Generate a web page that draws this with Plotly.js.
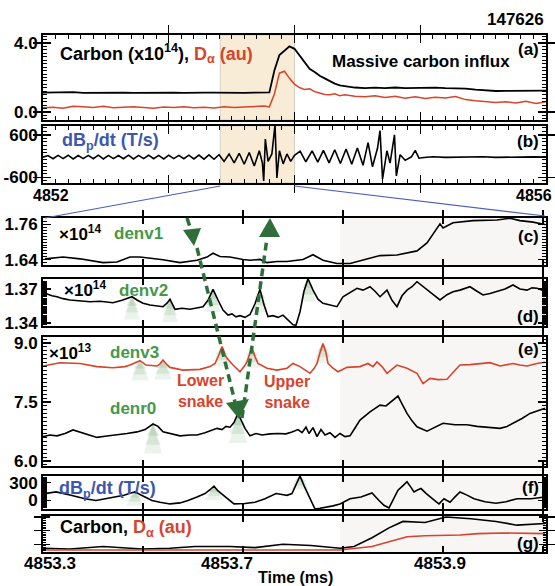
<!DOCTYPE html>
<html><head><meta charset="utf-8">
<script src="https://cdn.plot.ly/plotly-3.0.1.min.js"></script>
<style>html,body{margin:0;padding:0;background:#fff}#chart{width:555px;height:586px}</style>
</head><body><div id="chart"></div>
<script>
// ---------- DATA ----------
// Panel (a): time (ms), carbon (x1e14), D-alpha (au)
const timeA = [4852.00,4852.08,4852.16,4852.24,4852.32,4852.40,4852.48,4852.56,4852.64,4852.72,4852.80,4852.88,4852.96,4853.04,4853.12,4853.20,4853.28,4853.36,4853.44,4853.52,4853.60,4853.68,4853.76,
  4853.80,4853.84,4853.88,4853.92,4853.96,4854.00,4854.04,4854.08,4854.12,4854.16,4854.20,4854.24,4854.28,4854.32,4854.36,4854.40,
  4854.48,4854.56,4854.64,4854.72,4854.80,4854.88,4854.96,4855.04,4855.12,4855.20,4855.28,4855.36,4855.44,4855.52,4855.60,4855.68,4855.76,4855.84,4855.92,4856.00];
const carbonA = [1.12,1.14,1.13,1.15,1.11,1.12,1.10,1.12,1.13,1.11,1.12,1.10,1.11,1.12,1.11,1.10,1.12,1.13,1.11,1.12,1.11,1.12,1.12,
  1.14,2.40,3.30,3.55,3.80,3.66,3.25,2.85,2.50,2.32,2.10,1.95,1.80,1.65,1.55,1.50,
  1.42,1.38,1.41,1.39,1.42,1.38,1.40,1.39,1.41,1.38,1.39,1.36,1.30,1.24,1.22,1.23,1.24,1.22,1.23,1.24];
const dalphaA = [0.25,0.28,0.22,0.34,0.30,0.27,0.33,0.25,0.28,0.30,0.26,0.22,0.29,0.27,0.31,0.25,0.28,0.24,0.30,0.26,0.29,0.33,0.35,
  0.30,1.05,2.25,2.36,1.95,1.62,1.42,1.30,1.35,1.18,1.10,1.02,1.00,1.06,0.95,1.00,
  0.92,0.88,0.95,0.85,0.92,0.80,0.88,0.78,0.86,0.82,0.90,0.72,0.65,0.62,0.55,0.60,0.52,0.62,0.50,0.60];
// Panel (b): dBp/dt (T/s) vertices [time, value]
const dbdtB = [
 [4852.00,-30],[4852.04,15],[4852.08,-75],[4852.12,20],[4852.16,-70],[4852.20,25],[4852.24,-80],[4852.28,15],[4852.32,-70],[4852.36,20],
 [4852.40,-75],[4852.44,25],[4852.48,-80],[4852.52,20],[4852.56,-70],[4852.60,15],[4852.64,-75],[4852.68,25],[4852.72,-80],[4852.76,20],
 [4852.80,-70],[4852.84,25],[4852.88,-75],[4852.92,20],[4852.96,-80],[4853.00,25],[4853.04,-70],[4853.08,20],[4853.12,-75],[4853.16,25],
 [4853.20,-80],[4853.24,30],[4853.28,-85],[4853.32,35],[4853.36,-90],[4853.40,40],
 [4853.44,-150],[4853.48,60],[4853.52,-190],[4853.56,80],[4853.60,-230],[4853.64,100],[4853.68,-280],[4853.72,150],[4853.745,-200],
 [4853.755,-700],[4853.768,480],[4853.79,-150],[4853.82,60],[4853.845,880],[4853.86,-620],[4853.88,150],[4853.91,-220],[4853.94,60],
 [4853.97,-150],[4854.00,20],
 [4854.045,140],[4854.09,-160],[4854.14,150],[4854.185,-170],[4854.23,160],[4854.275,-190],[4854.32,180],[4854.365,-210],[4854.41,200],
 [4854.455,-230],[4854.50,230],[4854.545,-260],[4854.585,380],[4854.62,-300],[4854.66,220],[4854.68,720],[4854.70,-650],[4854.735,150],
 [4854.76,-200],[4854.795,600],[4854.81,-560],[4854.84,40],[4854.88,-120],[4854.93,-20],[4854.96,160],[4854.99,-60],[4855.03,-40],
 [4855.10,-20],[4855.20,-35],[4855.30,-25],[4855.40,-30],[4855.50,-20],[4855.60,-35],[4855.70,-25],[4855.80,-30],[4855.90,-22],[4856.00,-30]];
// Panel (c): denv1 (x1e14)
const denv1 = [
 [4853.302,1.643],[4853.320,1.649],[4853.337,1.643],[4853.360,1.630],[4853.374,1.632],[4853.387,1.649],[4853.397,1.649],[4853.420,1.640],
 [4853.437,1.630],[4853.454,1.638],[4853.464,1.649],[4853.470,1.662],[4853.477,1.651],[4853.487,1.649],[4853.500,1.641],[4853.507,1.638],
 [4853.517,1.641],[4853.524,1.630],[4853.534,1.634],[4853.544,1.634],[4853.560,1.641],[4853.570,1.657],[4853.580,1.638],[4853.594,1.627],
 [4853.607,1.627],[4853.624,1.643],[4853.637,1.654],[4853.654,1.656],[4853.674,1.670],[4853.684,1.697],[4853.694,1.746],[4853.697,1.762],
 [4853.700,1.748],[4853.710,1.766],[4853.730,1.773],[4853.754,1.775],[4853.767,1.781],[4853.777,1.773],[4853.790,1.768],[4853.802,1.760]];
// Panel (d): denv2 (x1e14)
const denv2 = [
 [4853.302,1.3662],[4853.309,1.3640],[4853.314,1.3632],[4853.320,1.3615],[4853.327,1.3603],[4853.337,1.3595],[4853.347,1.3588],[4853.357,1.3592],
 [4853.370,1.3579],[4853.379,1.3600],[4853.384,1.3618],[4853.389,1.3632],[4853.394,1.3603],[4853.400,1.3575],[4853.407,1.3559],[4853.414,1.3550],
 [4853.420,1.3544],[4853.424,1.3575],[4853.427,1.3609],[4853.432,1.3521],[4853.439,1.3530],[4853.447,1.3521],[4853.454,1.3530],[4853.460,1.3544],
 [4853.465,1.3600],[4853.470,1.3697],[4853.475,1.3603],[4853.480,1.3515],[4853.485,1.3470],[4853.489,1.3480],[4853.493,1.3455],[4853.497,1.3465],
 [4853.502,1.3450],[4853.507,1.3475],[4853.512,1.3570],[4853.517,1.3697],[4853.521,1.3560],[4853.525,1.3457],[4853.530,1.3465],[4853.535,1.3450],
 [4853.540,1.3470],[4853.545,1.3430],[4853.550,1.3385],[4853.553,1.3380],[4853.557,1.3500],[4853.561,1.3680],[4853.565,1.3790],[4853.570,1.3690],
 [4853.575,1.3610],[4853.580,1.3574],[4853.587,1.3560],[4853.594,1.3544],[4853.600,1.3632],[4853.607,1.3670],[4853.614,1.3706],[4853.620,1.3690],
 [4853.627,1.3720],[4853.632,1.3680],[4853.637,1.3632],[4853.644,1.3690],[4853.649,1.3600],[4853.654,1.3544],[4853.659,1.3640],[4853.664,1.3690],
 [4853.669,1.3720],[4853.674,1.3764],[4853.680,1.3720],[4853.687,1.3676],[4853.692,1.3640],[4853.697,1.3603],[4853.704,1.3650],[4853.710,1.3676],
 [4853.717,1.3690],[4853.727,1.3720],[4853.734,1.3680],[4853.740,1.3647],[4853.747,1.3660],[4853.754,1.3676],[4853.762,1.3700],[4853.770,1.3735],
 [4853.777,1.3700],[4853.784,1.3690],[4853.789,1.3710],[4853.794,1.3706],[4853.802,1.3680]];
// Panel (e): denv3 and denr0 (x1e13)
const denv3 = [
 [4853.300,8.415],[4853.317,8.50],[4853.337,8.48],[4853.354,8.40],[4853.370,8.37],[4853.382,8.40],[4853.387,8.44],[4853.393,8.50],[4853.397,8.55],
 [4853.403,8.44],[4853.408,8.42],[4853.414,8.415],[4853.417,8.47],[4853.420,8.57],[4853.424,8.45],[4853.427,8.38],[4853.440,8.31],[4853.449,8.33],
 [4853.457,8.33],[4853.467,8.40],[4853.472,8.48],[4853.476,8.70],[4853.479,8.91],[4853.482,8.70],[4853.484,8.61],[4853.490,8.44],[4853.494,8.35],
 [4853.497,8.27],[4853.501,8.40],[4853.504,8.52],[4853.507,8.75],[4853.509,8.87],[4853.512,8.65],[4853.515,8.48],[4853.524,8.36],[4853.534,8.31],
 [4853.544,8.36],[4853.550,8.48],[4853.557,8.40],[4853.567,8.23],[4853.571,8.35],[4853.574,8.48],[4853.577,8.75],[4853.580,8.99],[4853.583,8.75],
 [4853.585,8.48],[4853.590,8.36],[4853.595,8.27],[4853.604,8.38],[4853.617,8.40],[4853.625,8.48],[4853.630,8.40],[4853.634,8.52],[4853.639,8.40],
 [4853.644,8.23],[4853.654,8.44],[4853.664,8.36],[4853.674,8.23],[4853.680,7.97],[4853.687,8.10],[4853.695,8.07],[4853.704,8.08],[4853.710,8.25],
 [4853.717,8.44],[4853.727,8.45],[4853.737,8.47],[4853.747,8.50],[4853.757,8.415],[4853.764,8.46],[4853.770,8.48],[4853.777,8.44],[4853.784,8.415],
 [4853.794,8.48],[4853.802,8.51]];
const denr0 = [
 [4853.300,6.62],[4853.307,6.66],[4853.314,6.64],[4853.322,6.70],[4853.330,6.79],[4853.337,6.74],[4853.347,6.66],[4853.354,6.60],[4853.362,6.63],
 [4853.374,6.66],[4853.384,6.70],[4853.394,6.74],[4853.402,6.80],[4853.410,6.94],[4853.415,6.88],[4853.420,6.74],[4853.429,6.68],[4853.437,6.64],
 [4853.447,6.66],[4853.454,6.66],[4853.462,6.72],[4853.469,6.78],[4853.474,6.83],[4853.479,6.80],[4853.483,6.88],[4853.487,6.86],[4853.491,6.98],
 [4853.495,7.21],[4853.499,7.00],[4853.502,6.83],[4853.507,6.64],[4853.513,6.70],[4853.519,6.66],[4853.527,6.69],[4853.535,6.70],[4853.543,6.69],
 [4853.549,6.74],[4853.555,6.80],[4853.559,6.72],[4853.563,6.86],[4853.566,6.70],[4853.570,6.85],[4853.574,6.62],[4853.578,6.80],[4853.582,6.66],
 [4853.587,6.72],[4853.592,6.60],[4853.597,6.70],[4853.602,6.62],[4853.607,6.64],[4853.612,6.84],[4853.617,7.04],[4853.627,7.25],[4853.637,7.42],
 [4853.643,7.40],[4853.649,7.52],[4853.655,7.65],[4853.659,7.45],[4853.664,7.21],[4853.669,7.02],[4853.674,6.87],[4853.684,6.76],[4853.692,6.85],
 [4853.700,6.96],[4853.712,6.92],[4853.724,6.92],[4853.734,6.88],[4853.744,6.85],[4853.757,6.83],[4853.764,6.88],[4853.770,6.96],[4853.779,7.08],
 [4853.787,7.21],[4853.795,7.28],[4853.802,7.34]];
// Panel (f): dBp/dt (T/s)
const dbdtF = [
 [4853.300,110],[4853.303,117],[4853.313,144],[4853.328,87],[4853.342,30],[4853.353,0],[4853.363,33],[4853.381,87],[4853.387,120],[4853.392,144],
 [4853.397,100],[4853.402,58],[4853.409,0],[4853.417,-30],[4853.427,-57],[4853.437,-40],[4853.445,0],[4853.454,60],[4853.462,117],[4853.467,180],
 [4853.471,240],[4853.475,160],[4853.480,87],[4853.485,20],[4853.491,-57],[4853.502,-50],[4853.512,-28],[4853.522,30],[4853.533,117],[4853.539,100],
 [4853.544,87],[4853.549,117],[4853.553,250],[4853.557,410],[4853.561,250],[4853.565,117],[4853.568,0],[4853.572,-142],[4853.577,-130],[4853.583,-113],
 [4853.590,-90],[4853.597,-57],[4853.607,30],[4853.618,58],[4853.623,90],[4853.629,127],[4853.636,0],[4853.641,-80],[4853.646,-125],[4853.651,40],
 [4853.655,172],[4853.660,250],[4853.664,314],[4853.668,220],[4853.671,144],[4853.675,180],[4853.678,200],[4853.683,120],[4853.689,30],[4853.693,-20],
 [4853.696,-57],[4853.701,30],[4853.704,0],[4853.707,-28],[4853.712,60],[4853.717,144],[4853.724,90],[4853.731,30],[4853.742,-20],[4853.753,-45],
 [4853.763,-20],[4853.774,30],[4853.788,30],[4853.794,45],[4853.802,58]];
// Panel (g): carbon and D-alpha (au)
const carbonG = [
 [4853.300,0.08],[4853.327,0.06],[4853.360,0.13],[4853.399,0.06],[4853.427,0.08],[4853.452,0.13],[4853.487,0.13],[4853.512,0.10],[4853.540,0.20],
 [4853.568,0.16],[4853.597,0.08],[4853.611,0.13],[4853.629,0.39],[4853.646,0.68],[4853.660,0.87],[4853.682,0.84],[4853.703,1.00],[4853.728,0.95],
 [4853.753,0.87],[4853.774,0.76],[4853.802,0.81]];
const dalphaG = [
 [4853.300,0.03],[4853.399,0.03],[4853.505,0.03],[4853.597,0.03],[4853.629,0.13],[4853.647,0.28],[4853.664,0.42],[4853.682,0.45],[4853.717,0.47],
 [4853.735,0.51],[4853.760,0.53],[4853.802,0.51]];
// highlighted (green-shaded) peaks
const peaksD = [4853.389,4853.427,4853.470,4853.517,4853.565];
const peaksE3 = [4853.397,4853.420,4853.479,4853.509,4853.580];
const peaksE0 = [4853.410,4853.495];
const peaksF = [4853.392,4853.471,4853.557];
// zoomed window and tick labels
const zoomWindow = [4853.41, 4854.00];
const bottomTickVals = [4853.307, 4853.484, 4853.697];
const bottomTickText = ['4853.3','4853.7','4853.9'];

// ---------- LAYOUT HELPERS ----------
const W=555,H=586,ML=43,MR=9,MT=35,MB=34;
const PW=W-ML-MR, PH=H-MT-MB;
const px=x=>(x-ML)/PW, py=y=>(H-MB-y)/PH;
const FONT='Liberation Sans, Arial, Helvetica, sans-serif';
const RED='#d8432b', BLUE='#3d56b0', GREEN='#45984a', DKG='#2f6e38';
const xs=p=>p.map(d=>d[0]), ys=p=>p.map(d=>d[1]);

function line(x,y,xa,ya,color,w){return {type:'scatter',mode:'lines',x:x,y:y,xaxis:xa,yaxis:ya,line:{color:color,width:w||1.6},hoverinfo:'skip',showlegend:false};}

const traces=[
 line(timeA,carbonA,'x','y','#000',1.8),
 line(timeA,dalphaA,'x','y',RED,1.5),
 line(xs(dbdtB),ys(dbdtB),'x2','y2','#000',1.6),
 line(xs(denv1),ys(denv1),'x3','y3','#000',1.6),
 line(xs(denv2),ys(denv2),'x4','y4','#000',1.6),
 line(xs(denv3),ys(denv3),'x5','y5',RED,1.6),
 line(xs(denr0),ys(denr0),'x5','y5','#000',1.6),
 line(xs(dbdtF),ys(dbdtF),'x6','y6','#000',1.6),
 line(xs(carbonG),ys(carbonG),'x7','y7','#000',1.6),
 line(xs(dalphaG),ys(dalphaG),'x7','y7',RED,1.6)
];

const TF={family:FONT,size:17,color:'#000',weight:'bold'};
const base={showgrid:false,zeroline:false,showline:true,linecolor:'#000',linewidth:2,mirror:'allticks',ticks:'inside',tickcolor:'#000',tickwidth:1.3,fixedrange:true,tickfont:TF};
const dom=(top,bot)=>[py(bot),py(top)];

const topX={...base,range:[4852,4856],tickmode:'array',tickvals:[4852,4853,4854,4855,4856],ticklen:8,showticklabels:false};
const lowR=[4853.3,4853.803];
const lowTicks=[4853.3,4853.4,4853.5,4853.6,4853.7,4853.8];
const lowX={...base,range:lowR,tickmode:'array',tickvals:lowTicks,ticklen:6,showticklabels:false};

const layout={
 width:W,height:H,margin:{l:ML,r:MR,t:MT,b:MB},paper_bgcolor:'#fff',plot_bgcolor:'#fff',showlegend:false,
 font:{family:FONT},
 xaxis:{...topX,anchor:'y'},
 yaxis:{...base,domain:dom(35,120),anchor:'x',range:[-0.46,4.46],tickmode:'array',tickvals:[0,4],ticktext:['0.0','4.0'],ticklen:8},
 xaxis2:{...topX,anchor:'y2'},
 yaxis2:{...base,domain:dom(126,183),anchor:'x2',range:[-760,850],tickmode:'array',tickvals:[-600,600],ticktext:['-600','600'],ticklen:8},
 xaxis3:{...lowX,anchor:'y3'},
 yaxis3:{...base,domain:dom(218,265),anchor:'x3',range:[1.622,1.782],tickmode:'array',tickvals:[1.64,1.76],ticktext:['1.64','1.76'],ticklen:8},
 xaxis4:{...lowX,anchor:'y4'},
 yaxis4:{...base,domain:dom(279,326),anchor:'x4',range:[1.3374,1.3788],tickmode:'array',tickvals:[1.34,1.37],ticktext:['1.34','1.37'],ticklen:8},
 xaxis5:{...lowX,anchor:'y5'},
 yaxis5:{...base,domain:dom(337,466),anchor:'x5',range:[5.873,9.153],tickmode:'array',tickvals:[6,7.5,9],ticktext:['6.0','7.5','9.0'],ticklen:8},
 xaxis6:{...lowX,anchor:'y6'},
 yaxis6:{...base,domain:dom(476,509),anchor:'x6',range:[-142,410],tickmode:'array',tickvals:[0,300],ticktext:['0','300'],ticklen:8},
 xaxis7:{...lowX,anchor:'y7',tickvals:bottomTickVals,ticktext:bottomTickText,ticklen:0,showticklabels:true,ticklabelstandoff:-5},
 yaxis7:{...base,domain:dom(516,552),anchor:'x7',range:[-0.03,1.03],tickmode:'array',tickvals:[0.2,0.6,1.0],showticklabels:false,ticklen:7}
};

// overlay axes carrying the dense minor ticks (drawn on both sides)
const minorBase={showgrid:false,zeroline:false,showline:false,ticks:'inside',tickcolor:'#000',tickwidth:1,showticklabels:false,mirror:'ticks',fixedrange:true,tickmode:'linear'};
const minorY=[[1,[-0.46,4.46],0,0.2,4],[2,[-760,850],0,100,4],[3,[1.622,1.782],1.62,0.01,4],[4,[1.3374,1.3788],1.34,0.001,4],
              [5,[5.873,9.153],6,0.1,4],[6,[-142,410],0,10,4],[7,[-0.03,1.03],0,0.05,3]];
minorY.forEach(([n,r,t0,dt,len])=>{
 const id=10+n, xid=n===1?'x':'x'+n, yid=n===1?'y':'y'+n;
 layout['yaxis'+id]={...minorBase,overlaying:yid,anchor:xid,side:'left',range:r,tick0:t0,dtick:dt,ticklen:len};
 traces.push({type:'scatter',mode:'lines',x:[null],y:[null],xaxis:xid,yaxis:'y'+id,hoverinfo:'skip',showlegend:false});
});
const minorX=[[1,[4852,4856],4852,0.1,4],[2,[4852,4856],4852,0.1,4],[7,lowR,4853.3,0.1,6]];
minorX.forEach(([n,r,t0,dt,len])=>{
 const id=20+n, xid=n===1?'x':'x'+n, yid=n===1?'y':'y'+n;
 layout['xaxis'+id]={...minorBase,overlaying:xid,anchor:yid,side:'bottom',range:r,tick0:t0,dtick:dt,ticklen:len,tickwidth:n===7?1.3:1};
 traces.push({type:'scatter',mode:'lines',x:[null],y:[null],xaxis:'x'+id,yaxis:yid,hoverinfo:'skip',showlegend:false});
});

// ---------- SHAPES ----------
const shapes=[];
[['x','y domain'],['x2','y2 domain']].forEach(([xr,yr])=>shapes.push({type:'rect',xref:xr,yref:yr,x0:zoomWindow[0],x1:zoomWindow[1],y0:0,y1:1,fillcolor:'#f9ecd6',line:{color:'#d6d0c4',width:1},layer:'below'}));
['3','4','5','6','7'].forEach(n=>shapes.push({type:'rect',xref:'x'+n,yref:'y'+n+' domain',x0:4853.597,x1:lowR[1],y0:0,y1:1,fillcolor:'rgba(236,230,224,0.35)',line:{width:0},layer:'below'}));
const zx=t=>(t-4852)/4;
shapes.push({type:'line',xref:'paper',yref:'paper',x0:zx(zoomWindow[0]),y0:py(186),x1:px(45),y1:py(218),line:{color:'#4a5fc0',width:1.2}});
shapes.push({type:'line',xref:'paper',yref:'paper',x0:zx(zoomWindow[1]),y0:py(186),x1:px(545),y1:py(216),line:{color:'#4a5fc0',width:1.2}});
function valAt(pts,t){let b=pts[0];pts.forEach(p=>{if(Math.abs(p[0]-t)<Math.abs(b[0]-t))b=p;});return b;}
function mounds(pts,peaks,n,hw,depth){
 peaks.forEach(t=>{const p=valAt(pts,t);
  [[1,0.13],[0.7,0.17],[0.4,0.22]].forEach(([f,o])=>{
   const d=depth*f,w=hw*(0.5+0.5*f);
   shapes.push({type:'path',xref:'x'+n,yref:'y'+n,path:`M ${p[0]-w},${p[1]-d} L ${p[0]},${p[1]} L ${p[0]+w},${p[1]-d} Z`,fillcolor:'rgba(105,165,105,'+o+')',line:{width:0},layer:'below'});
  });
 });
}
mounds(denv2,peaksD,'4',0.008,0.02);
mounds(denv3,peaksE3,'5',0.009,0.5);
mounds(denr0,peaksE0,'5',0.009,0.75);
mounds(dbdtF,peaksF,'6',0.009,230);
function seg(x0,y0,x1,y1){shapes.push({type:'line',xref:'paper',yref:'paper',x0:px(x0),y0:py(y0),x1:px(x1),y1:py(y1),line:{color:DKG,width:3.5,dash:'8px,5px'}});}
function tri(a,b,c){shapes.push({type:'path',xref:'paper',yref:'paper',path:`M ${px(a[0])},${py(a[1])} L ${px(b[0])},${py(b[1])} L ${px(c[0])},${py(c[1])} Z`,fillcolor:DKG,line:{width:0}});}
seg(187,218,191,230); tri([183,230],[201,228],[194,246]);
seg(197,248,235,402); tri([226,403],[249,399],[239,419]);
seg(242,418,267,238); tri([259,237],[280,237],[270,218]);
layout.shapes=shapes;

// ---------- TEXT ----------
function T(text,x,y,o){return Object.assign({text:text,x:px(x),y:py(y),xref:'paper',yref:'paper',showarrow:false,xanchor:'left',yanchor:'middle',font:{family:FONT,size:17,color:'#000',weight:'bold'}},o||{});}
function F(size,color){return {family:FONT,size:size,color:color||'#000',weight:'bold'};}
layout.annotations=[
 T('147626',546,20,{xanchor:'right',font:F(17)}),
 T('(a)',541,49,{xanchor:'right'}),T('(b)',541,141,{xanchor:'right'}),T('(c)',541,236,{xanchor:'right'}),
 T('(d)',541,316,{xanchor:'right'}),T('(e)',541,349,{xanchor:'right'}),T('(f)',541,487,{xanchor:'right'}),T('(g)',541,543,{xanchor:'right'}),
 T('Carbon (x10<sup>14</sup>), <span style="color:'+RED+'">D<sub>α</sub> (au)</span>',58,53,{font:F(18)}),
 T('Massive carbon influx',330,61,{font:F(17)}),
 T('dB<sub>p</sub>/dt (T/s)',60,142,{font:F(18,BLUE)}),
 T('4852',51,196,{xanchor:'center',font:F(16)}),
 T('4856',554,196,{xanchor:'right',font:F(16)}),
 T('×10<sup>14</sup>',57,233,{font:F(17)}),T('denv1',112,233,{font:F(17,GREEN)}),
 T('×10<sup>14</sup>',62,289,{font:F(17)}),T('denv2',117,290,{font:F(17,GREEN)}),
 T('×10<sup>13</sup>',47,352,{font:F(17)}),T('denv3',108,352,{font:F(17,GREEN)}),
 T('denr0',108,408,{font:F(17,GREEN)}),
 T('Lower<br>snake',200,391,{xanchor:'center',font:F(16,RED)}),
 T('Upper<br>snake',287,392,{xanchor:'center',font:F(16,RED)}),
 T('dB<sub>p</sub>/dt (T/s)',57,489,{font:F(18,BLUE)}),
 T('Carbon, <span style="color:'+RED+'">D<sub>α</sub> (au)</span>',58,528,{font:F(18)}),
 T('Time (ms)',295,577,{xanchor:'center',font:F(16)})
];

Plotly.newPlot('chart',traces,layout,{staticPlot:true,displayModeBar:false});
</script></body></html>
